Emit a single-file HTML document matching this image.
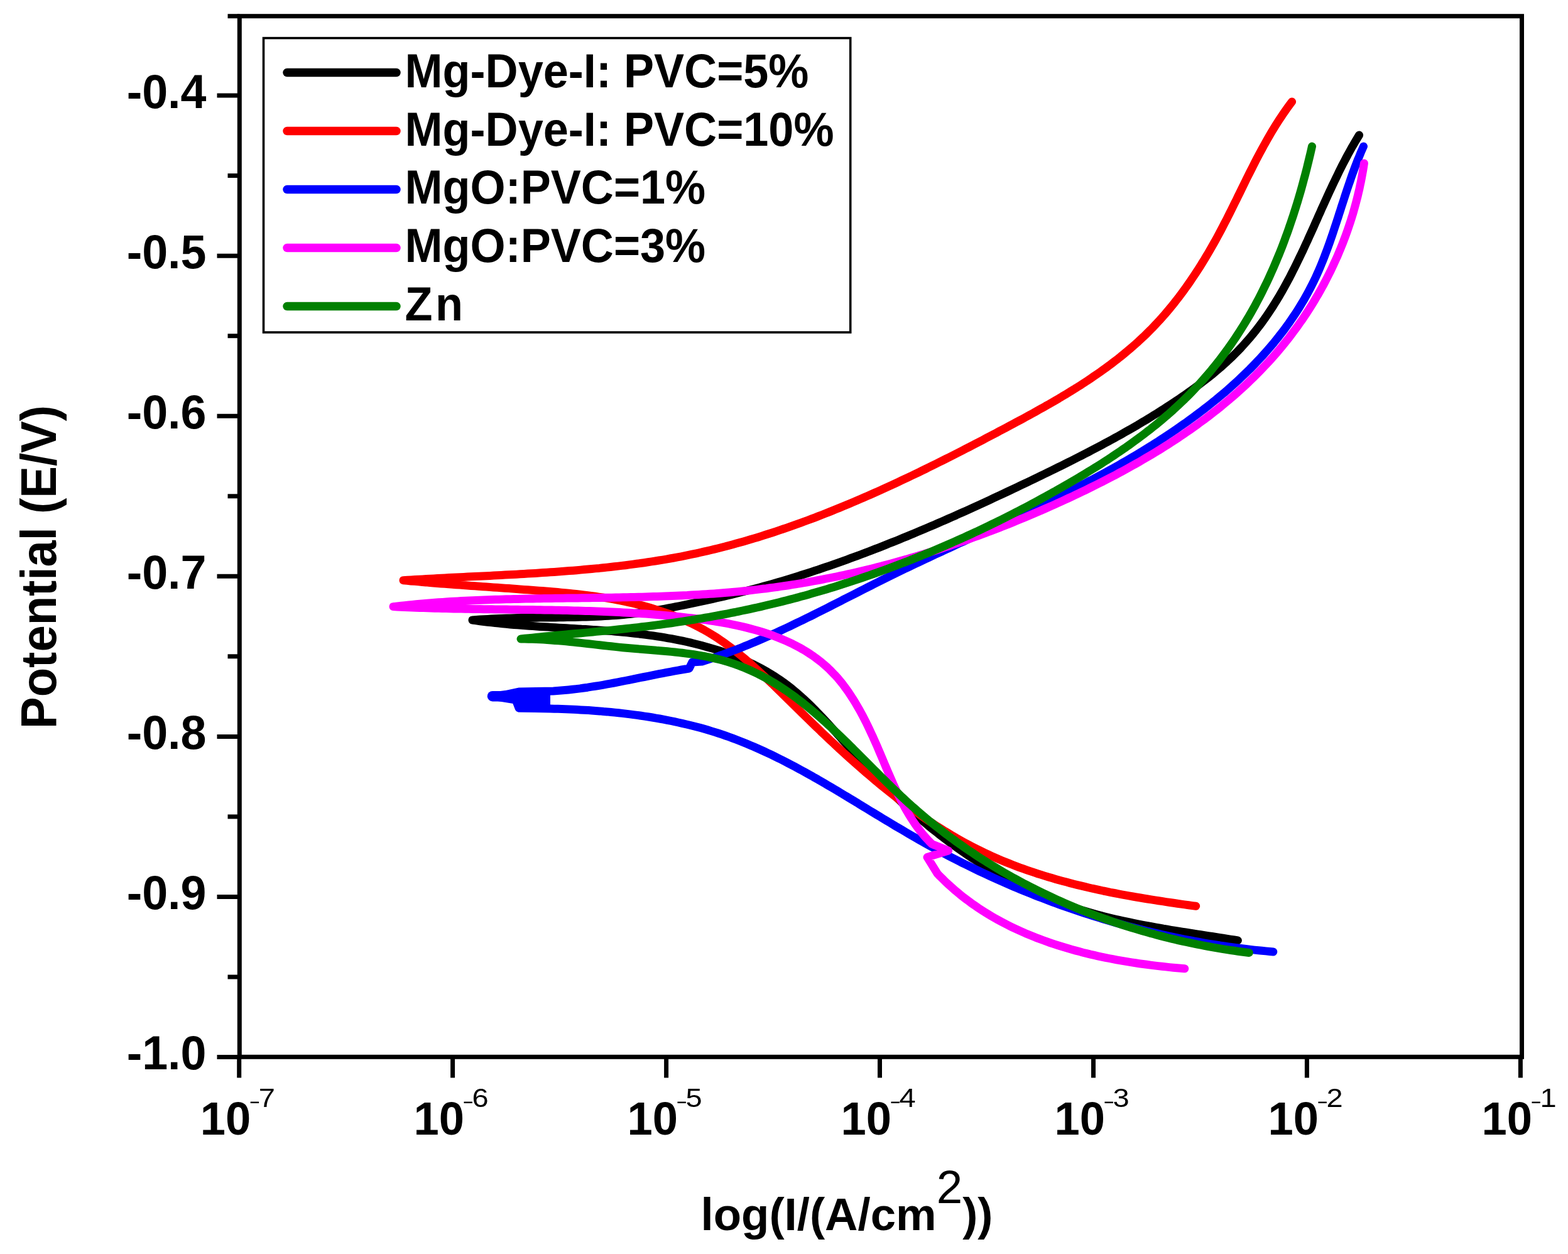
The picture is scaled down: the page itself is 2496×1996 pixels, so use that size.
<!DOCTYPE html>
<html><head><meta charset="utf-8"><title>Potentiodynamic polarization curves</title>
<style>html,body{margin:0;padding:0;background:#fff;}svg{display:block;}text{font-family:"Liberation Sans",Arial,sans-serif;font-weight:bold;fill:#000;}</style></head><body>
<svg width="2496" height="1996" viewBox="0 0 2496 1996">
<rect x="0" y="0" width="2496" height="1996" fill="#fff"/>
<g fill="none" stroke-width="13" stroke-linejoin="round" stroke-linecap="round">
<polyline stroke="#000000" points="1970.4,1497.0 1964.5,1496.0 1958.6,1495.1 1952.6,1494.2 1946.7,1493.2 1941.4,1492.4 1935.4,1491.5 1929.3,1490.5 1923.3,1489.6 1917.2,1488.7 1911.2,1487.7 1905.7,1486.9 1899.6,1485.9 1893.5,1485.0 1887.4,1484.0 1881.9,1483.2 1875.8,1482.2 1869.6,1481.2 1864.2,1480.3 1858.0,1479.2 1851.8,1478.2 1846.4,1477.2 1840.2,1476.1 1834.0,1475.0 1828.5,1474.0 1822.4,1472.9 1816.9,1471.8 1810.7,1470.6 1804.6,1469.4 1799.1,1468.2 1793.0,1466.9 1786.8,1465.6 1781.4,1464.4 1775.3,1463.0 1769.9,1461.7 1763.8,1460.2 1757.7,1458.7 1752.3,1457.3 1746.3,1455.7 1740.3,1454.1 1735.0,1452.6 1729.0,1450.8 1723.0,1449.1 1717.7,1447.4 1711.8,1445.5 1706.0,1443.6 1700.1,1441.6 1694.9,1439.8 1689.1,1437.7 1683.3,1435.6 1677.6,1433.4 1671.9,1431.1 1666.8,1429.1 1661.1,1426.7 1655.5,1424.3 1649.9,1421.8 1644.3,1419.3 1639.3,1417.1 1633.8,1414.5 1628.3,1411.8 1622.8,1409.1 1617.3,1406.4 1611.9,1403.6 1606.4,1400.8 1601.7,1398.2 1596.3,1395.3 1591.0,1392.3 1585.6,1389.3 1580.4,1386.2 1575.1,1383.1 1570.4,1380.3 1565.2,1377.1 1560.0,1373.9 1554.9,1370.6 1549.8,1367.2 1544.6,1363.9 1539.6,1360.5 1535.1,1357.4 1530.0,1353.9 1525.0,1350.4 1520.0,1346.8 1515.1,1343.2 1510.7,1340.0 1505.8,1336.3 1500.9,1332.6 1496.0,1328.8 1491.2,1325.0 1486.9,1321.6 1482.1,1317.8 1477.3,1313.9 1472.6,1309.9 1467.9,1306.0 1463.7,1302.4 1459.0,1298.4 1454.4,1294.3 1449.8,1290.2 1445.7,1286.5 1441.1,1282.4 1436.5,1278.2 1432.0,1273.9 1428.0,1270.1 1423.5,1265.8 1419.1,1261.5 1415.1,1257.7 1410.7,1253.3 1406.3,1248.9 1402.0,1244.4 1398.1,1240.5 1393.8,1236.0 1389.5,1231.5 1385.7,1227.4 1381.4,1222.9 1377.2,1218.3 1373.4,1214.2 1369.3,1209.5 1365.1,1204.9 1361.4,1200.7 1357.3,1196.0 1353.6,1191.8 1349.5,1187.1 1345.4,1182.4 1341.7,1178.3 1337.6,1173.6 1333.4,1168.9 1329.8,1164.8 1325.6,1160.1 1321.5,1155.5 1317.3,1150.9 1313.6,1146.9 1309.4,1142.4 1305.1,1137.9 1300.8,1133.5 1297.0,1129.6 1292.7,1125.2 1288.3,1120.9 1283.9,1116.7 1279.4,1112.6 1274.9,1108.5 1270.4,1104.5 1265.8,1100.6 1261.1,1096.7 1256.9,1093.4 1252.1,1089.7 1247.2,1086.1 1242.3,1082.7 1237.3,1079.3 1232.3,1076.0 1227.1,1072.8 1222.0,1069.7 1216.7,1066.7 1211.4,1063.8 1206.1,1061.0 1200.7,1058.2 1195.2,1055.6 1189.7,1053.0 1184.1,1050.5 1178.5,1048.1 1173.5,1046.1 1167.8,1043.8 1162.1,1041.7 1156.3,1039.6 1150.5,1037.5 1145.3,1035.8 1139.4,1033.9 1133.5,1032.1 1127.6,1030.4 1122.3,1028.9 1116.3,1027.2 1110.3,1025.7 1104.2,1024.2 1098.9,1022.9 1092.8,1021.5 1086.7,1020.2 1081.3,1019.1 1075.1,1017.9 1069.0,1016.7 1063.6,1015.8 1057.4,1014.7 1051.3,1013.7 1045.8,1012.8 1039.6,1011.9 1033.5,1011.1 1028.0,1010.3 1021.8,1009.5 1015.6,1008.8 1010.2,1008.2 1004.0,1007.5 997.8,1006.9 991.6,1006.2 986.1,1005.7 980.0,1005.2 973.8,1004.6 968.3,1004.2 962.1,1003.7 955.9,1003.3 949.7,1002.8 944.2,1002.4 938.1,1002.0 931.9,1001.6 925.7,1001.3 920.2,1000.9 914.0,1000.6 907.9,1000.2 901.7,999.8 896.2,999.5 890.0,999.2 883.9,998.8 877.7,998.4 872.2,998.1 866.1,997.8 859.9,997.4 853.8,997.0 848.3,996.6 842.2,996.2 836.0,995.8 829.9,995.3 823.8,994.8 818.3,994.4 812.2,993.9 806.1,993.3 800.0,992.8 793.9,992.1 788.4,991.6 782.4,990.9 776.3,990.2 770.2,989.5 764.1,988.7 758.1,987.9 752.0,987.0 758.0,986.5 764.0,986.1 770.1,985.7 776.1,985.4 782.1,985.0 788.1,984.8 794.1,984.5 800.1,984.3 806.2,984.1 812.2,983.9 818.2,983.8 824.2,983.6 830.2,983.5 836.2,983.4 842.2,983.3 848.2,983.3 854.2,983.2 860.2,983.1 866.2,983.1 872.2,983.0 878.2,982.9 884.2,982.9 890.2,982.8 897.0,982.7 903.0,982.6 909.0,982.5 915.0,982.4 920.9,982.2 926.9,982.1 932.9,981.9 938.8,981.7 944.8,981.5 950.8,981.2 956.7,980.9 962.7,980.6 968.6,980.2 974.6,979.8 980.5,979.4 986.5,978.9 992.4,978.4 998.3,977.8 1004.3,977.2 1010.2,976.5 1016.9,975.7 1022.8,974.9 1028.8,974.1 1034.7,973.2 1040.6,972.2 1046.5,971.2 1052.4,970.2 1058.2,969.1 1064.1,968.0 1070.0,966.9 1075.9,965.7 1081.8,964.5 1087.6,963.3 1093.5,962.1 1099.4,960.9 1105.3,959.6 1111.1,958.4 1117.0,957.2 1122.9,955.9 1128.7,954.6 1134.6,953.3 1140.4,952.0 1146.3,950.7 1152.1,949.4 1158.0,948.0 1163.8,946.6 1169.6,945.2 1175.5,943.8 1181.3,942.3 1187.1,940.8 1192.9,939.3 1198.7,937.8 1204.5,936.3 1210.2,934.7 1216.0,933.1 1221.8,931.5 1227.5,929.9 1233.3,928.2 1239.1,926.6 1244.8,924.9 1251.4,922.9 1257.1,921.2 1262.8,919.4 1268.5,917.6 1274.3,915.8 1280.0,914.0 1285.7,912.2 1291.4,910.3 1297.1,908.4 1302.8,906.6 1308.4,904.6 1314.1,902.7 1319.8,900.8 1325.4,898.8 1331.1,896.8 1336.8,894.8 1342.4,892.8 1348.1,890.8 1353.7,888.7 1359.3,886.7 1365.0,884.6 1370.6,882.5 1376.2,880.4 1381.8,878.2 1387.4,876.1 1393.0,873.9 1398.6,871.8 1404.2,869.6 1409.8,867.4 1415.4,865.1 1421.0,862.9 1426.6,860.7 1432.1,858.4 1437.7,856.1 1443.3,853.9 1448.8,851.6 1454.4,849.3 1459.9,846.9 1465.5,844.6 1471.0,842.3 1476.5,839.9 1482.1,837.5 1487.6,835.2 1493.1,832.8 1498.6,830.4 1504.2,828.0 1509.7,825.5 1515.2,823.1 1520.7,820.7 1526.2,818.2 1531.7,815.8 1537.2,813.3 1542.7,810.8 1548.1,808.3 1553.6,805.8 1559.1,803.3 1564.6,800.8 1570.0,798.3 1575.5,795.8 1581.0,793.2 1586.4,790.7 1591.9,788.2 1597.3,785.6 1602.8,783.0 1608.2,780.5 1613.7,777.9 1619.1,775.3 1624.6,772.7 1630.0,770.1 1635.4,767.6 1640.8,765.0 1646.3,762.4 1651.7,759.7 1657.1,757.1 1662.5,754.5 1667.9,751.9 1673.3,749.2 1678.7,746.6 1684.1,743.9 1689.5,741.3 1694.9,738.6 1700.3,735.9 1705.7,733.2 1711.0,730.5 1716.4,727.8 1721.7,725.1 1727.1,722.3 1732.4,719.6 1737.7,716.8 1743.0,714.0 1748.3,711.2 1753.6,708.4 1758.9,705.6 1764.2,702.8 1769.5,699.9 1774.7,697.0 1780.0,694.1 1785.2,691.2 1790.4,688.2 1795.6,685.3 1800.8,682.3 1806.0,679.3 1811.2,676.3 1816.3,673.2 1821.5,670.2 1826.6,667.1 1831.7,664.0 1836.8,660.8 1841.9,657.7 1846.9,654.5 1852.0,651.3 1857.0,648.0 1862.1,644.7 1867.1,641.4 1872.0,638.1 1877.0,634.8 1882.0,631.4 1886.9,628.0 1891.8,624.5 1896.7,621.0 1901.6,617.5 1906.4,614.0 1911.2,610.4 1916.0,606.7 1920.7,603.1 1925.4,599.4 1930.1,595.6 1934.7,591.8 1939.3,587.9 1943.8,584.0 1948.9,579.5 1953.4,575.4 1957.7,571.3 1962.1,567.2 1966.3,563.0 1970.5,558.7 1974.7,554.4 1978.7,550.0 1982.7,545.5 1986.7,541.0 1990.6,536.5 1994.4,531.8 1998.2,527.2 2001.9,522.4 2005.5,517.7 2009.1,512.8 2012.6,508.0 2016.0,503.1 2019.4,498.1 2022.7,493.2 2026.0,488.1 2029.1,483.1 2032.3,478.0 2035.4,472.9 2038.4,467.7 2041.4,462.6 2044.3,457.4 2047.2,452.1 2050.0,446.9 2052.9,441.6 2055.6,436.3 2058.3,430.9 2061.0,425.6 2063.7,420.2 2066.3,414.8 2068.9,409.4 2071.5,404.0 2074.1,398.6 2076.6,393.1 2079.1,387.6 2081.7,382.2 2084.1,376.7 2086.6,371.2 2089.1,365.7 2091.6,360.2 2094.0,354.7 2096.5,349.2 2098.9,343.7 2101.4,338.2 2103.8,332.7 2106.3,327.2 2108.8,321.7 2111.3,316.3 2113.8,310.8 2116.3,305.3 2118.8,299.9 2121.4,294.4 2124.0,289.0 2126.6,283.6 2129.2,278.2 2131.8,272.8 2134.5,267.4 2137.2,262.0 2140.0,256.7 2142.8,251.4 2145.6,246.1 2148.5,240.9 2151.4,235.6 2154.4,230.4 2157.4,225.3 2160.5,220.1 2163.6,215.0"/>
<polyline stroke="#ff0000" points="1903.7,1442.3 1898.2,1441.6 1892.1,1440.7 1885.9,1439.9 1880.4,1439.1 1874.3,1438.2 1868.0,1437.3 1862.5,1436.5 1856.3,1435.6 1850.7,1434.7 1844.5,1433.8 1838.9,1432.9 1832.6,1431.9 1827.0,1431.0 1820.8,1430.0 1815.2,1429.0 1808.9,1428.0 1803.3,1427.0 1797.0,1425.9 1791.4,1424.8 1785.7,1423.8 1779.4,1422.6 1773.8,1421.5 1767.5,1420.3 1761.9,1419.1 1756.3,1418.0 1750.0,1416.6 1744.4,1415.4 1738.8,1414.2 1732.5,1412.7 1727.0,1411.4 1720.7,1409.9 1715.1,1408.6 1709.6,1407.2 1703.3,1405.6 1697.8,1404.1 1691.6,1402.5 1686.1,1401.0 1680.6,1399.4 1674.4,1397.6 1668.9,1396.0 1662.8,1394.1 1657.4,1392.4 1651.9,1390.7 1645.9,1388.7 1640.5,1386.9 1634.4,1384.8 1629.1,1382.9 1623.1,1380.8 1617.8,1378.8 1611.8,1376.5 1606.5,1374.4 1600.7,1372.1 1595.4,1369.9 1589.6,1367.5 1584.4,1365.2 1578.6,1362.6 1573.5,1360.3 1567.8,1357.6 1562.8,1355.2 1557.1,1352.4 1551.5,1349.6 1546.5,1347.0 1540.9,1344.0 1536.0,1341.4 1530.5,1338.4 1525.6,1335.6 1520.1,1332.5 1514.7,1329.3 1509.9,1326.4 1504.5,1323.2 1499.8,1320.2 1494.4,1316.9 1489.7,1313.9 1484.4,1310.4 1479.2,1307.0 1474.5,1303.8 1469.3,1300.3 1464.7,1297.1 1459.6,1293.5 1455.0,1290.2 1449.9,1286.5 1444.8,1282.8 1440.3,1279.4 1435.2,1275.6 1430.7,1272.2 1425.7,1268.3 1421.3,1264.9 1416.3,1260.9 1411.9,1257.4 1406.9,1253.4 1402.5,1249.9 1397.6,1245.8 1393.3,1242.2 1388.4,1238.1 1384.1,1234.4 1379.2,1230.3 1375.0,1226.6 1370.1,1222.4 1365.9,1218.7 1361.6,1214.9 1356.8,1210.7 1352.6,1206.9 1347.9,1202.6 1343.6,1198.7 1338.9,1194.4 1334.7,1190.6 1330.6,1186.7 1325.9,1182.3 1321.7,1178.4 1317.0,1174.0 1312.9,1170.1 1308.2,1165.7 1304.1,1161.7 1300.0,1157.8 1295.4,1153.3 1291.3,1149.3 1286.7,1144.9 1282.6,1140.9 1278.5,1136.9 1273.9,1132.4 1269.8,1128.4 1265.2,1123.9 1261.2,1119.9 1257.1,1115.9 1252.5,1111.4 1248.5,1107.4 1243.9,1102.9 1239.8,1098.9 1235.2,1094.4 1231.2,1090.4 1227.1,1086.5 1222.5,1082.0 1218.4,1078.1 1213.7,1073.8 1209.6,1069.9 1204.9,1065.6 1200.7,1061.8 1196.0,1057.6 1191.8,1053.9 1187.0,1049.8 1182.2,1045.7 1177.9,1042.2 1173.0,1038.2 1168.6,1034.8 1163.7,1030.9 1158.7,1027.2 1154.2,1023.9 1149.1,1020.4 1143.9,1016.8 1139.3,1013.8 1134.0,1010.5 1128.7,1007.3 1123.9,1004.5 1118.5,1001.4 1113.0,998.5 1108.1,995.9 1102.5,993.1 1096.9,990.5 1091.8,988.2 1086.1,985.6 1080.3,983.2 1075.2,981.1 1069.3,978.9 1064.1,976.9 1058.2,974.8 1052.2,972.8 1046.9,971.1 1040.9,969.2 1035.5,967.6 1029.4,965.8 1024.0,964.4 1017.9,962.8 1012.4,961.4 1006.3,960.0 1000.1,958.6 994.6,957.4 988.4,956.1 982.9,955.1 976.7,953.9 971.1,952.9 964.9,951.9 959.3,951.0 953.0,950.1 947.4,949.3 941.1,948.4 935.5,947.7 929.2,946.9 923.6,946.2 917.3,945.5 911.7,944.9 905.3,944.3 899.7,943.7 893.4,943.1 887.7,942.6 881.4,942.0 875.7,941.6 869.4,941.1 863.7,940.6 858.1,940.2 851.8,939.7 846.1,939.2 839.8,938.8 834.1,938.4 827.8,937.9 822.2,937.5 815.8,937.0 810.2,936.6 803.9,936.2 797.6,935.7 791.9,935.3 785.6,934.9 780.0,934.5 773.7,934.1 768.0,933.7 761.7,933.2 756.1,932.8 749.8,932.4 744.2,932.0 737.8,931.5 732.2,931.1 725.9,930.7 720.3,930.2 713.9,929.8 708.3,929.3 702.0,928.9 696.3,928.4 690.0,927.9 684.4,927.5 678.0,926.9 672.4,926.5 666.0,925.9 660.4,925.4 654.0,924.9 648.4,924.4 642.0,923.8 648.8,923.3 654.7,923.0 660.6,922.6 666.5,922.3 672.5,921.9 678.4,921.6 684.4,921.2 690.3,920.9 696.3,920.6 702.2,920.3 708.2,920.0 714.2,919.6 720.1,919.3 726.1,919.0 732.1,918.7 738.1,918.4 744.1,918.1 750.1,917.8 756.0,917.6 762.0,917.3 768.0,917.0 774.0,916.7 780.0,916.4 786.0,916.1 792.0,915.8 798.0,915.4 804.1,915.1 810.1,914.8 816.1,914.5 822.1,914.2 828.1,913.8 834.1,913.5 840.1,913.1 846.1,912.8 852.1,912.4 858.1,912.0 864.1,911.6 870.1,911.2 876.1,910.8 882.2,910.4 888.2,910.0 894.2,909.6 900.2,909.1 906.2,908.6 912.1,908.2 918.1,907.7 924.1,907.1 930.1,906.6 936.1,906.1 942.1,905.5 948.1,904.9 954.0,904.4 960.0,903.7 966.0,903.1 971.9,902.5 977.9,901.8 983.9,901.1 989.8,900.4 995.8,899.7 1001.7,898.9 1007.6,898.1 1013.6,897.3 1019.5,896.5 1025.4,895.7 1031.3,894.8 1037.2,893.9 1043.1,893.0 1049.0,892.0 1054.9,891.1 1060.8,890.1 1066.7,889.0 1072.6,888.0 1078.4,886.9 1084.3,885.8 1090.1,884.6 1096.0,883.4 1101.8,882.2 1108.5,880.8 1114.3,879.5 1120.1,878.2 1125.9,876.9 1131.7,875.5 1137.4,874.1 1143.2,872.7 1149.0,871.2 1154.8,869.8 1160.5,868.2 1166.2,866.7 1172.0,865.1 1177.7,863.5 1183.4,861.9 1189.2,860.3 1194.9,858.6 1201.4,856.6 1207.1,854.9 1212.8,853.1 1218.4,851.3 1224.1,849.5 1229.8,847.7 1235.4,845.8 1241.1,843.9 1246.7,842.0 1252.4,840.1 1258.0,838.1 1263.6,836.1 1269.2,834.1 1274.9,832.1 1280.5,830.0 1286.1,828.0 1291.7,825.9 1297.3,823.8 1302.8,821.6 1308.4,819.5 1314.0,817.3 1319.5,815.1 1325.1,812.9 1330.7,810.6 1336.2,808.4 1341.8,806.1 1347.3,803.8 1352.8,801.5 1358.3,799.1 1363.9,796.8 1369.4,794.4 1374.9,792.0 1380.4,789.6 1385.9,787.2 1391.4,784.8 1396.9,782.3 1402.4,779.9 1407.8,777.4 1413.3,774.9 1418.8,772.4 1424.3,769.8 1429.7,767.3 1435.2,764.7 1440.6,762.2 1446.1,759.6 1451.5,757.0 1457.0,754.4 1462.4,751.8 1467.8,749.1 1473.3,746.5 1478.7,743.8 1484.1,741.2 1489.5,738.5 1494.9,735.8 1500.3,733.1 1505.7,730.4 1511.1,727.7 1516.5,724.9 1521.9,722.2 1527.3,719.5 1532.7,716.7 1537.3,714.3 1542.7,711.6 1548.1,708.8 1553.4,706.0 1558.8,703.2 1564.2,700.4 1569.5,697.6 1574.9,694.8 1580.2,692.0 1585.6,689.2 1590.9,686.3 1596.3,683.5 1601.6,680.7 1607.0,677.8 1612.3,675.0 1617.7,672.1 1623.0,669.2 1628.3,666.4 1632.9,663.9 1638.2,661.0 1643.5,658.1 1648.7,655.2 1654.0,652.2 1659.3,649.3 1664.5,646.3 1669.8,643.4 1675.0,640.4 1680.2,637.3 1685.4,634.3 1690.5,631.2 1695.7,628.2 1700.8,625.0 1705.9,621.9 1711.0,618.8 1716.0,615.6 1721.1,612.4 1726.1,609.1 1731.1,605.9 1736.0,602.6 1740.9,599.2 1746.5,595.4 1751.4,592.0 1756.2,588.5 1761.0,585.1 1765.8,581.6 1770.5,578.0 1775.2,574.4 1779.9,570.8 1784.5,567.1 1789.1,563.4 1794.3,559.1 1798.8,555.3 1803.3,551.4 1807.7,547.5 1812.1,543.6 1816.4,539.6 1820.7,535.6 1824.9,531.5 1829.7,526.7 1833.9,522.5 1837.9,518.3 1842.0,513.9 1846.0,509.6 1849.9,505.2 1853.9,500.7 1857.7,496.2 1861.5,491.7 1865.3,487.1 1869.6,481.8 1873.2,477.1 1876.9,472.4 1880.5,467.6 1884.0,462.8 1887.5,458.0 1891.0,453.1 1894.4,448.2 1897.8,443.2 1901.2,438.2 1904.5,433.2 1907.7,428.2 1911.0,423.1 1914.1,418.0 1917.3,412.9 1920.4,407.7 1923.5,402.5 1926.5,397.3 1929.5,392.1 1932.5,386.8 1935.0,382.3 1937.9,377.0 1940.8,371.7 1943.6,366.4 1946.4,361.0 1949.2,355.6 1952.0,350.3 1954.7,344.9 1957.4,339.5 1960.1,334.1 1962.8,328.7 1965.5,323.2 1968.2,317.8 1970.8,312.4 1973.5,307.0 1976.1,301.6 1978.8,296.1 1981.5,290.7 1984.1,285.3 1986.8,279.9 1989.5,274.5 1992.2,269.2 1994.9,263.8 1997.6,258.5 2000.4,253.1 2003.2,247.8 2006.0,242.5 2008.8,237.3 2011.7,232.0 2014.6,226.8 2017.5,221.6 2020.5,216.4 2023.5,211.3 2026.6,206.2 2029.7,201.1 2032.9,196.1 2036.1,191.1 2039.4,186.1 2042.7,181.2 2046.1,176.3 2049.5,171.4 2053.0,166.7 2056.6,161.9"/>
<polyline stroke="#0000ff" points="2026.8,1515.0 2021.2,1514.5 2015.0,1513.9 2008.8,1513.3 2003.3,1512.8 1997.1,1512.1 1990.9,1511.4 1985.4,1510.8 1979.2,1510.0 1973.1,1509.3 1967.0,1508.5 1961.4,1507.7 1955.3,1506.9 1949.2,1506.0 1943.1,1505.1 1937.6,1504.2 1931.5,1503.3 1925.4,1502.3 1919.3,1501.3 1913.8,1500.3 1907.8,1499.2 1901.7,1498.1 1895.6,1497.0 1889.6,1495.9 1884.1,1494.8 1878.1,1493.6 1872.1,1492.4 1866.1,1491.1 1860.1,1489.8 1854.6,1488.6 1848.6,1487.3 1842.7,1485.9 1836.7,1484.5 1830.7,1483.1 1825.3,1481.8 1819.4,1480.3 1813.4,1478.8 1807.5,1477.3 1801.5,1475.7 1795.6,1474.2 1790.3,1472.7 1784.4,1471.1 1778.5,1469.4 1772.6,1467.7 1766.7,1466.0 1760.8,1464.3 1755.5,1462.7 1749.7,1460.9 1743.8,1459.1 1738.0,1457.3 1732.1,1455.4 1726.3,1453.5 1721.1,1451.8 1715.3,1449.9 1709.5,1447.9 1703.7,1445.9 1697.9,1443.9 1692.1,1441.8 1686.9,1440.0 1681.2,1437.9 1675.4,1435.8 1669.7,1433.6 1663.9,1431.5 1658.2,1429.3 1652.5,1427.1 1647.4,1425.1 1641.7,1422.8 1636.0,1420.5 1630.3,1418.2 1624.7,1415.9 1619.0,1413.5 1613.9,1411.4 1608.3,1409.0 1602.7,1406.5 1597.0,1404.1 1591.4,1401.6 1585.8,1399.1 1580.8,1396.8 1575.2,1394.3 1569.7,1391.7 1564.1,1389.1 1558.5,1386.5 1553.6,1384.1 1548.0,1381.4 1542.5,1378.7 1537.0,1376.0 1531.5,1373.3 1526.0,1370.5 1521.1,1368.0 1515.6,1365.2 1510.2,1362.4 1504.7,1359.5 1499.3,1356.7 1494.4,1354.0 1489.0,1351.1 1483.6,1348.2 1478.2,1345.2 1472.8,1342.2 1468.0,1339.5 1462.6,1336.5 1457.2,1333.4 1451.9,1330.4 1447.1,1327.6 1441.8,1324.5 1436.5,1321.3 1431.1,1318.2 1425.8,1315.1 1421.1,1312.2 1415.8,1309.0 1410.5,1305.9 1405.2,1302.7 1400.5,1299.8 1395.2,1296.6 1389.9,1293.4 1384.6,1290.2 1379.9,1287.3 1374.6,1284.1 1369.3,1280.9 1364.1,1277.6 1358.8,1274.4 1354.1,1271.6 1348.8,1268.4 1343.5,1265.2 1338.2,1262.0 1333.5,1259.2 1328.2,1256.0 1322.9,1252.9 1317.6,1249.8 1312.3,1246.7 1307.5,1243.9 1302.2,1240.8 1296.8,1237.8 1291.5,1234.7 1286.1,1231.7 1280.8,1228.8 1275.9,1226.1 1270.6,1223.2 1265.2,1220.3 1259.8,1217.4 1254.3,1214.6 1248.9,1211.8 1243.5,1209.0 1238.5,1206.6 1233.1,1203.9 1227.6,1201.2 1222.0,1198.6 1216.5,1196.0 1211.0,1193.5 1205.4,1191.0 1199.8,1188.5 1194.8,1186.4 1189.1,1184.0 1183.5,1181.7 1177.8,1179.5 1172.1,1177.3 1166.4,1175.1 1160.7,1173.0 1154.9,1171.0 1149.7,1169.2 1143.9,1167.3 1138.0,1165.4 1132.2,1163.6 1126.3,1161.8 1120.4,1160.1 1115.1,1158.6 1109.1,1157.0 1103.2,1155.5 1097.2,1154.0 1091.8,1152.7 1085.8,1151.3 1079.7,1150.0 1073.7,1148.7 1068.2,1147.5 1062.2,1146.3 1056.1,1145.2 1050.0,1144.0 1044.5,1143.1 1038.4,1142.0 1032.3,1141.0 1026.1,1140.1 1020.6,1139.3 1014.4,1138.4 1008.3,1137.6 1002.7,1136.9 996.6,1136.1 990.4,1135.4 984.9,1134.8 978.7,1134.1 972.5,1133.5 966.3,1132.9 960.8,1132.5 954.6,1131.9 948.4,1131.5 942.3,1131.0 936.7,1130.6 930.5,1130.3 924.4,1129.9 918.2,1129.6 912.7,1129.3 906.6,1129.0 900.4,1128.8 894.3,1128.5 888.2,1128.3 882.1,1128.2 876.0,1128.0 826.0,1127.0 821.0,1114.0 784.0,1108.2 805.0,1105.5 826.0,1101.0 880.9,1100.0 887.0,1099.6 893.1,1099.1 899.2,1098.6 905.2,1098.0 911.3,1097.3 917.4,1096.6 923.4,1095.9 929.4,1095.0 935.4,1094.2 941.5,1093.2 947.4,1092.3 953.5,1091.3 959.4,1090.3 965.5,1089.2 971.4,1088.1 977.5,1087.0 983.4,1085.9 989.4,1084.7 995.4,1083.5 1001.4,1082.3 1007.3,1081.2 1013.3,1079.9 1019.2,1078.7 1025.3,1077.5 1031.2,1076.3 1037.2,1075.1 1043.1,1073.9 1049.2,1072.7 1055.1,1071.6 1061.1,1070.4 1067.0,1069.3 1073.1,1068.1 1079.1,1067.1 1085.0,1066.0 1091.1,1065.0 1097.0,1064.0 1102.0,1054.0 1117.4,1053.0 1123.5,1051.1 1129.5,1049.1 1134.9,1047.3 1140.8,1045.3 1146.2,1043.4 1152.1,1041.3 1157.4,1039.4 1163.3,1037.2 1169.2,1035.0 1174.4,1033.0 1180.3,1030.7 1185.4,1028.6 1191.3,1026.2 1197.1,1023.8 1202.2,1021.7 1208.0,1019.2 1213.7,1016.7 1218.8,1014.5 1224.5,1012.0 1229.6,1009.7 1235.3,1007.1 1241.0,1004.5 1246.0,1002.2 1251.7,999.5 1257.4,996.8 1262.4,994.4 1268.0,991.7 1273.6,989.0 1278.6,986.6 1284.2,983.8 1289.9,981.1 1294.8,978.6 1300.4,975.8 1306.0,973.0 1311.0,970.5 1316.6,967.7 1322.1,964.9 1327.1,962.3 1332.7,959.5 1338.2,956.7 1343.2,954.1 1348.8,951.3 1354.3,948.5 1359.3,945.9 1364.9,943.1 1370.4,940.2 1375.4,937.7 1381.0,934.9 1386.6,932.1 1391.6,929.5 1397.2,926.7 1402.8,923.9 1407.8,921.4 1413.4,918.7 1418.4,916.2 1424.0,913.4 1429.7,910.7 1434.7,908.2 1440.4,905.5 1446.0,902.8 1451.1,900.4 1456.7,897.7 1461.8,895.3 1467.5,892.6 1473.2,889.9 1478.3,887.5 1484.0,884.9 1489.0,882.5 1494.7,879.8 1500.5,877.2 1505.5,874.8 1511.3,872.2 1516.4,869.8 1522.1,867.2 1527.8,864.5 1532.9,862.2 1538.6,859.6 1543.7,857.2 1549.5,854.6 1554.6,852.2 1560.3,849.6 1566.0,847.0 1571.1,844.6 1576.9,842.0 1582.0,839.6 1587.7,837.0 1592.8,834.6 1598.5,832.0 1604.2,829.3 1609.3,826.9 1615.0,824.3 1620.1,821.9 1625.8,819.2 1631.5,816.5 1636.6,814.1 1642.3,811.4 1647.4,809.0 1653.1,806.3 1658.1,803.8 1663.8,801.1 1669.5,798.3 1674.5,795.9 1680.2,793.1 1685.2,790.6 1690.8,787.8 1696.5,785.0 1701.5,782.5 1707.1,779.6 1712.1,777.1 1717.7,774.2 1723.3,771.3 1728.3,768.8 1733.8,765.8 1738.8,763.2 1744.3,760.3 1749.9,757.3 1754.8,754.6 1760.3,751.6 1765.2,748.9 1770.7,745.9 1776.2,742.8 1781.1,740.1 1786.5,737.0 1792.0,733.8 1796.8,731.0 1802.2,727.8 1807.0,725.0 1812.4,721.8 1817.8,718.5 1822.6,715.6 1827.9,712.3 1832.7,709.4 1838.0,706.0 1843.3,702.6 1848.0,699.6 1853.2,696.2 1858.5,692.7 1863.1,689.6 1868.3,686.1 1873.0,682.9 1878.1,679.3 1883.3,675.7 1887.9,672.5 1893.0,668.8 1897.5,665.5 1902.6,661.8 1907.6,658.0 1912.1,654.6 1917.1,650.8 1921.5,647.4 1926.4,643.5 1931.3,639.5 1935.7,636.0 1940.5,632.0 1945.3,628.0 1949.6,624.4 1954.3,620.3 1958.5,616.6 1963.2,612.4 1967.8,608.2 1971.9,604.4 1976.5,600.1 1981.0,595.8 1985.0,591.9 1989.4,587.6 1993.8,583.1 1997.7,579.1 2002.0,574.6 2006.2,570.1 2010.0,566.0 2014.1,561.4 2018.2,556.7 2022.3,552.0 2025.9,547.8 2029.8,543.0 2033.7,538.2 2037.1,533.8 2040.9,528.9 2044.7,524.0 2048.3,519.0 2051.6,514.5 2055.1,509.4 2058.6,504.3 2062.1,499.1 2065.1,494.5 2068.4,489.2 2071.6,483.9 2074.5,479.2 2077.6,473.8 2080.6,468.3 2083.3,463.4 2086.2,457.9 2089.0,452.3 2091.5,447.3 2094.2,441.7 2096.8,436.0 2099.1,430.8 2101.6,425.0 2103.7,419.9 2106.1,414.0 2108.2,408.7 2110.4,402.8 2112.4,397.5 2114.6,391.5 2116.5,386.2 2118.6,380.1 2120.5,374.8 2122.5,368.7 2124.3,363.3 2126.3,357.2 2128.1,351.8 2130.1,345.7 2131.8,340.3 2133.8,334.2 2135.5,328.8 2137.5,322.7 2139.3,317.3 2141.2,311.2 2143.0,305.8 2145.0,299.8 2146.8,294.5 2148.9,288.5 2150.7,283.2 2152.8,277.2 2154.7,272.0 2156.9,266.1 2159.1,260.3 2161.1,255.1 2163.5,249.4 2165.8,243.7 2168.3,238.0 2170.5,233.0"/>
<rect x="824" y="1096.6" width="52" height="36.7" fill="#0000ff" stroke="none"/><line x1="784" y1="1108.2" x2="826" y2="1108.2" stroke="#0000ff" stroke-width="16.5"/>
<polyline stroke="#ff00ff" points="1885.8,1541.8 1879.9,1541.3 1873.8,1540.7 1867.7,1540.2 1861.7,1539.6 1855.6,1538.9 1849.6,1538.3 1843.7,1537.6 1837.5,1536.9 1831.5,1536.1 1825.5,1535.3 1819.5,1534.5 1813.5,1533.7 1807.6,1532.8 1801.6,1531.9 1795.6,1530.9 1789.6,1529.9 1783.6,1528.9 1777.6,1527.8 1771.6,1526.7 1765.6,1525.5 1759.7,1524.3 1753.7,1523.1 1747.7,1521.8 1741.8,1520.4 1735.9,1519.1 1729.9,1517.6 1724.0,1516.2 1718.1,1514.6 1712.5,1513.1 1706.6,1511.5 1700.8,1509.8 1694.9,1508.1 1689.1,1506.3 1683.3,1504.5 1677.6,1502.6 1671.8,1500.7 1666.1,1498.7 1660.2,1496.5 1654.5,1494.4 1648.9,1492.3 1643.3,1490.0 1637.7,1487.7 1632.1,1485.4 1626.4,1482.9 1620.9,1480.4 1615.4,1477.9 1610.0,1475.3 1604.4,1472.5 1599.1,1469.8 1593.8,1467.0 1588.3,1464.0 1583.1,1461.1 1577.9,1458.1 1572.6,1454.9 1567.5,1451.7 1562.4,1448.5 1557.2,1445.1 1552.3,1441.7 1547.4,1438.3 1542.3,1434.6 1537.5,1431.0 1532.7,1427.3 1528.0,1423.6 1523.2,1419.6 1518.6,1415.7 1514.1,1411.7 1509.6,1407.6 1505.1,1403.5 1500.8,1399.2 1496.4,1394.9 1492.2,1390.5 1476.0,1364.4 1509.6,1354.0 1483.5,1343.5 1479.4,1339.4 1475.2,1334.9 1471.4,1330.6 1467.4,1325.9 1463.9,1321.5 1460.2,1316.6 1456.6,1311.6 1453.2,1306.5 1450.1,1301.7 1446.9,1296.5 1443.7,1291.2 1440.9,1286.3 1438.0,1280.9 1435.1,1275.4 1432.5,1270.3 1429.7,1264.7 1427.3,1259.6 1424.6,1253.9 1422.2,1248.7 1419.7,1242.9 1417.4,1237.6 1414.9,1231.8 1412.6,1226.5 1410.3,1221.1 1407.8,1215.3 1405.6,1209.9 1403.3,1204.5 1400.8,1198.6 1398.5,1193.2 1396.2,1187.8 1393.8,1182.4 1391.2,1176.6 1388.8,1171.2 1386.3,1165.9 1383.8,1160.5 1381.3,1155.2 1378.5,1149.5 1375.8,1144.3 1373.1,1139.1 1370.1,1133.5 1367.3,1128.4 1364.4,1123.4 1361.2,1118.0 1358.1,1113.1 1354.8,1107.9 1351.6,1103.1 1348.1,1098.1 1344.5,1093.1 1340.8,1088.2 1337.3,1083.9 1333.4,1079.2 1329.3,1074.7 1325.2,1070.4 1321.0,1066.1 1316.7,1062.0 1311.9,1057.8 1307.3,1053.9 1302.7,1050.3 1297.9,1046.7 1293.1,1043.3 1288.1,1040.0 1283.1,1036.8 1278.0,1033.7 1272.8,1030.8 1267.5,1028.0 1262.1,1025.2 1256.7,1022.6 1251.2,1020.1 1245.6,1017.7 1240.0,1015.4 1234.3,1013.2 1229.0,1011.2 1223.2,1009.2 1217.3,1007.2 1211.9,1005.5 1205.9,1003.7 1200.4,1002.2 1194.3,1000.6 1188.7,999.1 1182.6,997.6 1176.9,996.3 1171.2,995.1 1165.0,993.8 1159.2,992.7 1153.5,991.6 1147.7,990.6 1141.4,989.5 1135.6,988.6 1129.7,987.7 1123.9,986.9 1118.0,986.0 1111.7,985.2 1105.8,984.5 1100.0,983.8 1094.1,983.1 1088.2,982.5 1081.9,981.8 1076.0,981.2 1070.2,980.6 1063.8,980.0 1058.0,979.5 1052.2,979.0 1045.9,978.5 1040.1,978.0 1034.4,977.6 1028.1,977.1 1022.3,976.7 1016.1,976.3 1010.3,976.0 1004.1,975.6 998.4,975.2 992.1,974.9 986.4,974.6 980.2,974.3 974.5,974.0 968.3,973.7 962.1,973.5 956.4,973.2 950.2,973.0 944.5,972.8 938.3,972.6 932.2,972.4 926.5,972.2 920.3,972.0 914.2,971.9 908.5,971.7 902.4,971.6 896.2,971.4 890.1,971.3 884.4,971.2 878.3,971.1 872.1,971.0 866.5,970.9 860.3,970.8 854.2,970.7 848.0,970.6 842.4,970.6 836.2,970.5 830.1,970.4 824.4,970.3 818.3,970.3 812.1,970.2 806.5,970.1 800.3,970.1 794.1,970.0 788.5,969.9 782.3,969.8 776.1,969.8 770.4,969.7 764.2,969.6 758.0,969.5 752.4,969.4 746.1,969.3 740.4,969.2 734.2,969.1 728.0,969.0 722.3,968.9 716.0,968.8 710.3,968.6 704.0,968.5 698.3,968.3 692.0,968.2 686.3,968.0 680.5,967.8 674.2,967.6 668.4,967.4 662.1,967.2 656.3,967.0 650.4,966.7 644.1,966.5 638.2,966.2 632.4,965.9 626.0,965.6 632.4,964.9 638.7,964.2 644.2,963.6 650.6,962.9 656.1,962.4 662.5,961.8 668.0,961.3 674.4,960.7 679.9,960.2 686.3,959.7 691.8,959.3 698.2,958.8 704.6,958.4 710.1,958.0 716.5,957.6 722.1,957.3 728.5,956.9 734.0,956.6 740.5,956.3 746.0,956.0 752.4,955.7 758.0,955.5 764.4,955.2 769.9,955.0 776.4,954.8 781.9,954.6 788.4,954.3 794.0,954.2 800.4,954.0 806.0,953.8 812.4,953.7 818.0,953.5 824.5,953.4 830.0,953.2 836.5,953.1 842.1,953.0 848.5,952.9 854.1,952.8 859.7,952.7 866.1,952.6 871.7,952.5 878.2,952.4 883.8,952.3 890.2,952.3 895.8,952.2 902.3,952.1 907.9,952.0 914.3,952.0 919.9,951.9 926.4,951.8 932.0,951.7 938.5,951.7 944.0,951.6 950.5,951.5 956.1,951.4 962.6,951.3 968.1,951.2 973.7,951.2 980.2,951.0 985.7,950.9 992.2,950.8 997.8,950.7 1004.3,950.6 1009.8,950.5 1016.3,950.3 1021.9,950.2 1028.3,950.0 1033.9,949.8 1040.4,949.6 1045.9,949.5 1052.4,949.2 1057.9,949.0 1064.4,948.8 1070.0,948.6 1076.4,948.3 1082.0,948.0 1088.4,947.7 1093.9,947.5 1100.4,947.1 1105.9,946.8 1112.4,946.4 1117.9,946.1 1124.3,945.7 1129.9,945.3 1136.3,944.9 1141.8,944.5 1148.2,944.0 1153.7,943.5 1160.2,943.0 1165.7,942.5 1172.1,941.9 1177.6,941.4 1184.0,940.7 1189.5,940.2 1195.8,939.5 1201.3,938.9 1207.7,938.1 1214.1,937.3 1219.6,936.7 1225.9,935.8 1231.4,935.1 1237.8,934.2 1243.2,933.4 1249.6,932.5 1255.0,931.7 1261.4,930.7 1266.8,929.8 1273.1,928.8 1278.6,927.9 1284.9,926.8 1291.2,925.6 1296.6,924.7 1302.9,923.5 1308.3,922.5 1314.6,921.2 1320.0,920.2 1326.3,918.9 1331.7,917.8 1338.0,916.4 1343.4,915.3 1349.6,913.9 1355.9,912.5 1361.3,911.3 1367.5,909.8 1372.9,908.5 1379.1,907.0 1384.5,905.7 1390.7,904.2 1396.1,902.8 1402.3,901.2 1407.6,899.8 1413.8,898.2 1419.2,896.8 1425.4,895.1 1431.6,893.3 1436.9,891.8 1443.1,890.1 1448.4,888.5 1454.5,886.7 1459.8,885.2 1466.0,883.3 1471.3,881.7 1477.4,879.8 1482.7,878.1 1488.8,876.2 1494.1,874.5 1500.2,872.5 1505.5,870.7 1511.6,868.7 1516.8,866.9 1522.9,864.9 1528.2,863.0 1534.3,860.9 1539.5,859.1 1545.6,856.9 1550.8,855.0 1556.9,852.8 1562.1,850.9 1568.1,848.6 1573.3,846.7 1579.4,844.4 1584.6,842.4 1590.6,840.1 1595.8,838.0 1601.8,835.6 1607.0,833.6 1613.0,831.2 1618.1,829.1 1624.1,826.6 1629.3,824.5 1635.2,822.0 1640.4,819.8 1646.3,817.3 1651.5,815.1 1657.4,812.5 1662.5,810.2 1667.6,808.0 1673.6,805.4 1678.7,803.1 1684.6,800.4 1689.7,798.1 1695.6,795.4 1700.7,793.0 1706.6,790.3 1711.6,787.9 1717.5,785.1 1722.6,782.7 1727.6,780.3 1733.5,777.4 1738.5,774.9 1744.3,772.0 1749.3,769.5 1755.1,766.6 1760.1,764.0 1765.9,761.0 1770.8,758.5 1775.8,755.9 1781.5,752.8 1786.4,750.2 1792.1,747.1 1797.0,744.4 1802.7,741.2 1807.5,738.5 1813.2,735.3 1818.0,732.5 1823.6,729.2 1828.4,726.4 1834.0,723.1 1838.7,720.2 1844.3,716.9 1849.0,713.9 1854.4,710.5 1859.1,707.6 1864.6,704.1 1869.2,701.1 1874.6,697.5 1879.2,694.4 1884.5,690.8 1889.1,687.7 1894.3,684.1 1898.8,680.9 1904.1,677.2 1908.5,673.9 1913.7,670.1 1918.1,666.9 1923.2,663.0 1928.3,659.1 1932.6,655.7 1937.6,651.8 1941.9,648.4 1946.8,644.3 1951.0,640.8 1955.9,636.7 1960.8,632.6 1964.9,629.0 1969.7,624.8 1973.7,621.2 1978.4,616.9 1983.1,612.6 1987.1,608.8 1991.6,604.4 1996.2,600.0 2000.0,596.1 2004.5,591.6 2008.3,587.7 2012.7,583.1 2017.0,578.5 2020.7,574.5 2025.0,569.8 2028.6,565.7 2032.8,560.9 2036.9,556.1 2040.4,551.9 2044.4,546.9 2047.8,542.7 2051.8,537.7 2055.6,532.6 2058.9,528.2 2062.7,523.1 2065.9,518.7 2069.6,513.4 2072.8,508.9 2076.4,503.6 2079.9,498.3 2082.9,493.7 2086.4,488.2 2089.3,483.6 2092.6,478.1 2095.4,473.3 2098.7,467.8 2101.4,463.0 2104.5,457.4 2107.2,452.5 2110.2,446.8 2112.7,441.9 2115.6,436.1 2118.1,431.2 2120.9,425.3 2123.2,420.3 2125.9,414.4 2128.2,409.4 2130.7,403.4 2132.9,398.3 2135.3,392.3 2137.4,387.2 2139.7,381.1 2141.7,375.9 2143.9,369.8 2145.7,364.6 2147.8,358.4 2149.6,353.1 2151.5,347.0 2153.2,341.6 2155.0,335.4 2156.5,330.0 2158.2,323.8 2159.6,318.4 2161.0,313.0 2162.5,306.6 2163.8,301.2 2165.1,294.8 2166.3,289.4 2167.5,283.0 2168.5,277.5 2169.7,271.0 2170.6,265.5 2171.4,260.0"/>
<polyline stroke="#008000" points="1988.3,1516.5 1982.5,1515.8 1976.6,1515.0 1970.8,1514.2 1964.9,1513.3 1959.1,1512.5 1953.3,1511.6 1946.8,1510.6 1941.0,1509.6 1935.2,1508.6 1929.4,1507.6 1923.6,1506.5 1917.2,1505.3 1911.4,1504.2 1905.7,1503.1 1899.9,1501.9 1894.1,1500.7 1888.4,1499.5 1882.0,1498.1 1876.3,1496.8 1870.6,1495.4 1864.8,1494.1 1859.1,1492.7 1852.8,1491.1 1847.1,1489.6 1841.5,1488.2 1835.8,1486.6 1830.1,1485.1 1823.9,1483.3 1818.2,1481.7 1812.6,1480.1 1807.0,1478.4 1800.7,1476.5 1795.2,1474.8 1789.6,1473.0 1784.0,1471.2 1778.4,1469.4 1772.3,1467.3 1766.7,1465.4 1761.2,1463.5 1755.7,1461.5 1749.6,1459.3 1744.1,1457.2 1738.6,1455.2 1733.2,1453.1 1727.1,1450.7 1721.7,1448.6 1716.3,1446.4 1710.9,1444.2 1704.9,1441.7 1699.5,1439.4 1694.2,1437.1 1688.8,1434.7 1682.9,1432.1 1677.6,1429.7 1672.3,1427.2 1667.0,1424.7 1661.1,1421.9 1655.9,1419.4 1650.7,1416.8 1645.4,1414.2 1639.7,1411.3 1634.5,1408.6 1629.3,1405.9 1624.2,1403.1 1618.5,1400.1 1613.3,1397.3 1608.2,1394.4 1603.2,1391.5 1597.5,1388.3 1592.5,1385.4 1587.5,1382.4 1582.5,1379.4 1576.9,1376.0 1572.0,1372.9 1567.0,1369.8 1562.1,1366.7 1556.6,1363.2 1551.8,1360.0 1546.9,1356.7 1542.0,1353.5 1536.7,1349.8 1531.9,1346.4 1527.1,1343.1 1522.3,1339.7 1517.1,1335.8 1512.3,1332.4 1507.6,1328.9 1503.0,1325.3 1498.3,1321.7 1493.2,1317.7 1488.6,1314.1 1484.0,1310.4 1479.4,1306.7 1474.9,1303.0 1470.4,1299.2 1465.4,1295.0 1460.9,1291.1 1456.5,1287.2 1452.0,1283.3 1447.6,1279.4 1443.3,1275.4 1438.4,1270.9 1434.1,1266.9 1429.8,1262.8 1425.5,1258.8 1421.2,1254.7 1417.0,1250.5 1412.7,1246.4 1408.5,1242.2 1404.3,1238.1 1399.6,1233.4 1395.4,1229.2 1391.2,1225.0 1387.0,1220.8 1382.8,1216.6 1378.6,1212.4 1374.5,1208.2 1370.3,1204.0 1366.1,1199.8 1361.4,1195.2 1357.3,1191.0 1353.1,1186.9 1348.9,1182.7 1344.7,1178.6 1340.4,1174.5 1335.7,1170.0 1331.5,1165.9 1327.2,1161.9 1323.0,1157.9 1318.7,1153.9 1313.9,1149.5 1309.6,1145.6 1305.3,1141.8 1300.4,1137.5 1296.0,1133.8 1291.6,1130.0 1286.7,1125.9 1282.2,1122.3 1277.7,1118.7 1272.7,1114.8 1268.1,1111.3 1263.0,1107.5 1258.4,1104.2 1253.2,1100.5 1248.5,1097.3 1243.2,1093.8 1238.4,1090.7 1233.0,1087.4 1228.1,1084.5 1222.7,1081.3 1217.7,1078.6 1212.1,1075.6 1207.1,1073.0 1201.9,1070.5 1196.2,1067.8 1191.0,1065.5 1185.1,1063.0 1179.7,1060.9 1174.3,1058.8 1168.3,1056.7 1162.7,1054.8 1157.1,1053.1 1150.9,1051.3 1145.2,1049.8 1139.4,1048.4 1133.6,1047.1 1127.7,1045.8 1121.8,1044.7 1115.8,1043.6 1109.8,1042.6 1104.5,1041.8 1098.4,1040.9 1092.3,1040.1 1086.2,1039.3 1080.1,1038.6 1074.7,1038.0 1068.6,1037.4 1062.4,1036.8 1056.3,1036.3 1050.2,1035.7 1044.8,1035.3 1038.7,1034.7 1032.6,1034.3 1026.5,1033.8 1020.5,1033.3 1014.5,1032.8 1008.5,1032.3 1002.6,1031.8 996.7,1031.2 990.8,1030.7 985.0,1030.1 978.6,1029.4 972.9,1028.8 966.6,1028.1 960.9,1027.5 954.7,1026.8 949.0,1026.1 942.8,1025.4 937.2,1024.8 931.0,1024.1 924.8,1023.4 919.2,1022.8 912.9,1022.1 907.3,1021.5 901.0,1020.9 895.4,1020.4 889.0,1019.8 883.3,1019.4 877.6,1018.9 871.1,1018.5 865.3,1018.1 859.4,1017.8 853.4,1017.6 847.4,1017.3 841.3,1017.2 835.2,1017.1 829.0,1017.0 835.3,1016.3 841.7,1015.6 847.2,1015.1 853.5,1014.4 859.1,1013.9 865.4,1013.3 871.0,1012.7 877.3,1012.1 883.7,1011.5 889.3,1011.0 895.6,1010.4 901.2,1009.9 907.6,1009.3 913.1,1008.8 919.5,1008.2 925.1,1007.7 931.4,1007.1 937.0,1006.6 943.4,1006.0 949.0,1005.4 955.3,1004.8 960.9,1004.3 967.3,1003.7 972.8,1003.1 979.2,1002.5 985.6,1001.8 991.2,1001.2 997.5,1000.5 1003.1,999.9 1009.5,999.2 1015.0,998.6 1021.4,997.8 1026.9,997.2 1033.3,996.4 1038.8,995.7 1045.2,994.9 1050.7,994.2 1057.1,993.3 1062.6,992.5 1069.0,991.7 1074.5,990.9 1080.8,989.9 1086.4,989.1 1092.7,988.1 1099.0,987.1 1104.5,986.3 1110.9,985.2 1116.4,984.3 1122.7,983.2 1128.2,982.3 1134.5,981.2 1140.0,980.2 1146.3,979.0 1151.8,978.0 1158.1,976.8 1163.6,975.7 1169.8,974.5 1175.3,973.3 1181.6,972.0 1187.1,970.9 1193.3,969.6 1199.6,968.2 1205.0,967.0 1211.3,965.6 1216.7,964.3 1222.9,962.8 1228.4,961.5 1234.6,960.0 1240.0,958.7 1246.2,957.1 1251.7,955.7 1257.9,954.1 1263.3,952.7 1269.5,951.1 1274.9,949.6 1281.1,947.9 1286.5,946.4 1292.6,944.6 1298.0,943.1 1304.2,941.3 1310.3,939.5 1315.7,937.9 1321.8,936.0 1327.2,934.4 1333.3,932.5 1338.6,930.8 1344.7,928.8 1350.1,927.1 1356.2,925.1 1361.5,923.4 1367.6,921.3 1372.9,919.5 1379.0,917.4 1384.3,915.6 1390.3,913.5 1395.6,911.6 1401.7,909.4 1406.9,907.5 1413.0,905.3 1418.2,903.4 1424.3,901.1 1429.5,899.1 1435.5,896.8 1440.8,894.8 1446.8,892.5 1452.0,890.4 1458.0,888.0 1463.2,885.9 1469.1,883.5 1474.3,881.4 1480.3,878.9 1485.5,876.8 1491.4,874.3 1496.6,872.1 1502.5,869.5 1507.6,867.3 1513.5,864.7 1518.7,862.4 1524.6,859.8 1529.7,857.5 1535.6,854.9 1540.7,852.5 1545.8,850.2 1551.7,847.4 1556.8,845.1 1562.6,842.3 1567.7,839.9 1573.5,837.1 1578.5,834.6 1584.3,831.8 1589.4,829.3 1595.2,826.5 1600.2,823.9 1606.0,821.0 1611.0,818.5 1616.7,815.5 1621.7,813.0 1627.4,810.0 1632.4,807.4 1638.1,804.4 1643.1,801.7 1648.8,798.7 1653.8,796.0 1658.7,793.3 1664.4,790.2 1669.3,787.5 1674.9,784.3 1679.9,781.6 1685.5,778.4 1690.4,775.6 1696.0,772.4 1700.9,769.6 1706.4,766.4 1711.3,763.5 1716.8,760.3 1721.7,757.4 1727.2,754.1 1732.0,751.1 1737.5,747.8 1742.3,744.8 1747.7,741.4 1752.5,738.4 1757.9,734.9 1762.6,731.9 1768.0,728.4 1772.7,725.3 1778.0,721.7 1782.6,718.6 1787.9,714.9 1792.5,711.8 1797.7,708.1 1802.3,704.8 1807.4,701.1 1811.9,697.8 1817.1,693.9 1821.5,690.6 1826.5,686.7 1831.6,682.8 1835.9,679.3 1840.9,675.3 1845.2,671.8 1850.0,667.7 1854.3,664.1 1859.1,660.0 1863.8,655.8 1868.0,652.1 1872.6,647.8 1876.7,644.0 1881.3,639.6 1885.9,635.2 1889.8,631.3 1894.3,626.8 1898.1,622.9 1902.5,618.3 1906.9,613.6 1910.6,609.5 1914.8,604.8 1918.5,600.6 1922.7,595.8 1926.8,591.0 1930.3,586.7 1934.3,581.7 1937.8,577.4 1941.7,572.4 1945.1,567.9 1948.9,562.8 1952.7,557.7 1955.9,553.2 1959.6,548.0 1962.8,543.4 1966.4,538.1 1969.5,533.4 1973.0,528.0 1976.0,523.3 1979.4,517.9 1982.3,513.1 1985.6,507.6 1988.5,502.8 1991.7,497.2 1994.4,492.3 1997.6,486.7 2000.2,481.7 2003.3,476.0 2005.9,471.0 2008.8,465.3 2011.3,460.2 2014.1,454.4 2016.6,449.3 2019.0,444.2 2021.7,438.3 2024.0,433.2 2026.7,427.2 2028.9,422.0 2031.4,416.1 2033.6,410.8 2036.1,404.9 2038.2,399.6 2040.3,394.3 2042.6,388.3 2044.6,383.0 2046.8,376.9 2048.8,371.6 2051.0,365.5 2052.8,360.1 2054.9,354.0 2056.7,348.6 2058.5,343.3 2060.5,337.1 2062.2,331.7 2064.1,325.6 2065.8,320.2 2067.6,314.0 2069.2,308.6 2071.0,302.4 2072.5,297.0 2074.2,290.8 2075.6,285.4 2077.3,279.2 2078.7,273.8 2080.3,267.7 2081.6,262.3 2083.1,256.1 2084.6,249.9 2085.9,244.5 2087.3,238.4 2088.5,233.0"/>
</g>
<g stroke="#000" stroke-width="7" fill="none" stroke-linecap="butt">
<rect x="381.3" y="25.7" width="2041.2" height="1656.6"/>
<line x1="362.5" y1="25.7" x2="381.3" y2="25.7"/>
<line x1="345.5" y1="152.1" x2="381.3" y2="152.1"/>
<line x1="362.5" y1="279.6" x2="381.3" y2="279.6"/>
<line x1="345.5" y1="407.2" x2="381.3" y2="407.2"/>
<line x1="362.5" y1="534.7" x2="381.3" y2="534.7"/>
<line x1="345.5" y1="662.2" x2="381.3" y2="662.2"/>
<line x1="362.5" y1="789.8" x2="381.3" y2="789.8"/>
<line x1="345.5" y1="917.3" x2="381.3" y2="917.3"/>
<line x1="362.5" y1="1044.8" x2="381.3" y2="1044.8"/>
<line x1="345.5" y1="1172.4" x2="381.3" y2="1172.4"/>
<line x1="362.5" y1="1299.9" x2="381.3" y2="1299.9"/>
<line x1="345.5" y1="1427.4" x2="381.3" y2="1427.4"/>
<line x1="362.5" y1="1555.0" x2="381.3" y2="1555.0"/>
<line x1="345.5" y1="1682.5" x2="381.3" y2="1682.5"/>
<line x1="380.7" y1="1682.3" x2="380.7" y2="1715.5"/>
<line x1="720.6" y1="1682.3" x2="720.6" y2="1715.5"/>
<line x1="1060.6" y1="1682.3" x2="1060.6" y2="1715.5"/>
<line x1="1400.5" y1="1682.3" x2="1400.5" y2="1715.5"/>
<line x1="1740.5" y1="1682.3" x2="1740.5" y2="1715.5"/>
<line x1="2080.4" y1="1682.3" x2="2080.4" y2="1715.5"/>
<line x1="2420.4" y1="1682.3" x2="2420.4" y2="1715.5"/>
</g>
<text x="0" y="0" font-size="75.5" text-anchor="end" transform="translate(328.5 171.9) scale(0.975 1)">-0.4</text>
<text x="0" y="0" font-size="75.5" text-anchor="end" transform="translate(328.5 427.0) scale(0.975 1)">-0.5</text>
<text x="0" y="0" font-size="75.5" text-anchor="end" transform="translate(328.5 682.0) scale(0.975 1)">-0.6</text>
<text x="0" y="0" font-size="75.5" text-anchor="end" transform="translate(328.5 937.1) scale(0.975 1)">-0.7</text>
<text x="0" y="0" font-size="75.5" text-anchor="end" transform="translate(328.5 1192.2) scale(0.975 1)">-0.8</text>
<text x="0" y="0" font-size="75.5" text-anchor="end" transform="translate(328.5 1447.2) scale(0.975 1)">-0.9</text>
<text x="0" y="0" font-size="75.5" text-anchor="end" transform="translate(328.5 1702.3) scale(0.975 1)">-1.0</text>
<text transform="translate(318.7 1805.5) scale(0.965 1)" font-size="75" >10</text><text transform="translate(396.2 1763.3) scale(1.25 0.7)" font-size="44" style="font-weight:normal">-</text><text transform="translate(411.7 1762) scale(1.12 1)" font-size="42" style="font-weight:normal">7</text>
<text transform="translate(658.6 1805.5) scale(0.965 1)" font-size="75" >10</text><text transform="translate(736.1 1763.3) scale(1.25 0.7)" font-size="44" style="font-weight:normal">-</text><text transform="translate(751.6 1762) scale(1.12 1)" font-size="42" style="font-weight:normal">6</text>
<text transform="translate(998.6 1805.5) scale(0.965 1)" font-size="75" >10</text><text transform="translate(1076.1 1763.3) scale(1.25 0.7)" font-size="44" style="font-weight:normal">-</text><text transform="translate(1091.6 1762) scale(1.12 1)" font-size="42" style="font-weight:normal">5</text>
<text transform="translate(1338.5 1805.5) scale(0.965 1)" font-size="75" >10</text><text transform="translate(1416.0 1763.3) scale(1.25 0.7)" font-size="44" style="font-weight:normal">-</text><text transform="translate(1431.5 1762) scale(1.12 1)" font-size="42" style="font-weight:normal">4</text>
<text transform="translate(1678.5 1805.5) scale(0.965 1)" font-size="75" >10</text><text transform="translate(1756.0 1763.3) scale(1.25 0.7)" font-size="44" style="font-weight:normal">-</text><text transform="translate(1771.5 1762) scale(1.12 1)" font-size="42" style="font-weight:normal">3</text>
<text transform="translate(2018.4 1805.5) scale(0.965 1)" font-size="75" >10</text><text transform="translate(2095.9 1763.3) scale(1.25 0.7)" font-size="44" style="font-weight:normal">-</text><text transform="translate(2111.4 1762) scale(1.12 1)" font-size="42" style="font-weight:normal">2</text>
<text transform="translate(2358.4 1805.5) scale(0.965 1)" font-size="75" >10</text><text transform="translate(2435.9 1763.3) scale(1.25 0.7)" font-size="44" style="font-weight:normal">-</text><text transform="translate(2451.4 1762) scale(1.12 1)" font-size="42" style="font-weight:normal">1</text>
<text transform="translate(1115.5 1958) scale(0.995 1)" font-size="73">log(I/(A/cm<tspan font-size="75" dy="-43" style="font-weight:normal">2</tspan><tspan dy="43">))</tspan></text>
<text transform="translate(88.8 1160) rotate(-90) scale(0.962 1)" font-size="79">Potential (E/V)</text>
<rect x="419.5" y="60.6" width="934.2" height="468.4" fill="none" stroke="#000" stroke-width="3.6"/>
<line x1="457" y1="115.6" x2="631" y2="115.6" stroke="#000000" stroke-width="13.5" stroke-linecap="round"/>
<text transform="translate(644.5 138.5) scale(0.955 1)" font-size="75.5">Mg-Dye-I: PVC=5%</text>
<line x1="457" y1="208.6" x2="631" y2="208.6" stroke="#ff0000" stroke-width="13.5" stroke-linecap="round"/>
<text transform="translate(644.5 231.5) scale(0.955 1)" font-size="75.5">Mg-Dye-I: PVC=10%</text>
<line x1="457" y1="301.5" x2="631" y2="301.5" stroke="#0000ff" stroke-width="13.5" stroke-linecap="round"/>
<text transform="translate(644.5 324.4) scale(0.955 1)" font-size="75.5">MgO:PVC=1%</text>
<line x1="457" y1="394.5" x2="631" y2="394.5" stroke="#ff00ff" stroke-width="13.5" stroke-linecap="round"/>
<text transform="translate(644.5 417.4) scale(0.955 1)" font-size="75.5">MgO:PVC=3%</text>
<line x1="457" y1="487.4" x2="631" y2="487.4" stroke="#008000" stroke-width="13.5" stroke-linecap="round"/>
<text transform="translate(644.5 510.3) scale(0.955 1)" font-size="75.5">Z<tspan dx="4.7">n</tspan></text>
</svg>
</body></html>
